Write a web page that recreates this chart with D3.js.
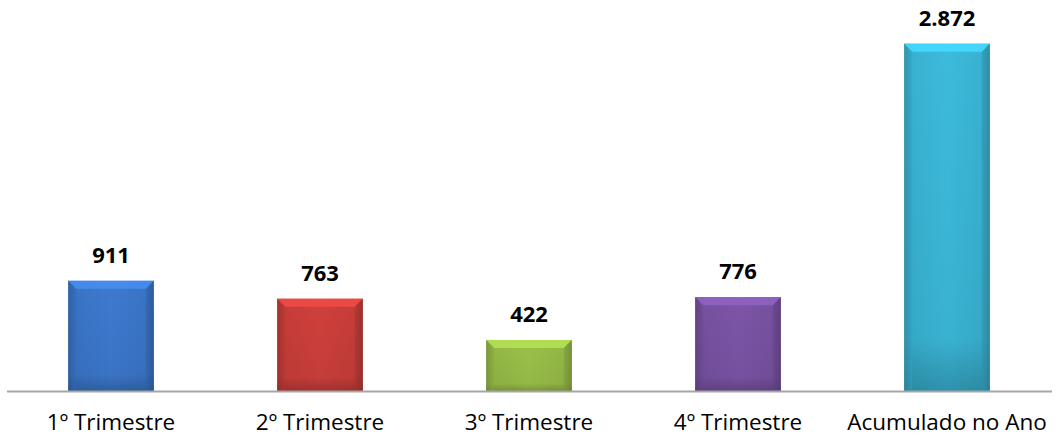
<!DOCTYPE html>
<html><head><meta charset="utf-8">
<script src="https://cdn.jsdelivr.net/npm/d3@7/dist/d3.min.js"></script>
<style>
html,body{margin:0;padding:0;background:#fff;}
svg{display:block;}
</style></head>
<body>
<svg id="c" width="1056" height="437"></svg>
<script>
const categories = ["1º Trimestre","2º Trimestre","3º Trimestre","4º Trimestre","Acumulado no Ano"];
const values = [911, 763, 422, 776, 2872];
const valueLabels = ["911","763","422","776","2.872"];
const colors = ["#3d7ad0","#d0403c","#9cc24a","#7d55a8","#3cbbdc"];

const W = 1056, H = 437;
const m = {left: 6.5, right: 4.5, top: 30, bottom: 46};
const svg = d3.select("#c");
const defs = svg.append("defs");

const x = d3.scaleBand().domain(categories).range([m.left, W - m.right]).paddingInner(0.59).paddingOuter(0.295);
const y = d3.scaleLinear().domain([0, 2985]).range([H - m.bottom, m.top]);

colors.forEach((c, i) => {
  const g = defs.append("linearGradient").attr("id", "g" + i).attr("x1", 0).attr("x2", 1).attr("y1", 0).attr("y2", 0);
  const base = d3.color(c);
  g.append("stop").attr("offset", "0%").attr("stop-color", base.darker(0.9));
  g.append("stop").attr("offset", "9%").attr("stop-color", base.darker(0.15));
  g.append("stop").attr("offset", "50%").attr("stop-color", base);
  g.append("stop").attr("offset", "91%").attr("stop-color", base.darker(0.15));
  g.append("stop").attr("offset", "100%").attr("stop-color", base.darker(0.9));
  const v = defs.append("linearGradient").attr("id", "v" + i).attr("x1", 0).attr("x2", 0).attr("y1", 0).attr("y2", 1);
  v.append("stop").attr("offset", "0%").attr("stop-color", "#000").attr("stop-opacity", 0);
  v.append("stop").attr("offset", "85%").attr("stop-color", "#000").attr("stop-opacity", 0.05);
  v.append("stop").attr("offset", "100%").attr("stop-color", "#000").attr("stop-opacity", 0.22);
});

const data = categories.map((c, i) => ({c, v: values[i], l: valueLabels[i], i}));
const bev = 8;

const bars = svg.append("g").selectAll("g").data(data).join("g");
bars.append("rect")
  .attr("x", d => x(d.c)).attr("y", d => y(d.v))
  .attr("width", x.bandwidth()).attr("height", d => y(0) - y(d.v))
  .attr("fill", d => `url(#g${d.i})`);
bars.append("rect")
  .attr("x", d => x(d.c)).attr("y", d => y(d.v))
  .attr("width", x.bandwidth()).attr("height", d => y(0) - y(d.v))
  .attr("fill", d => `url(#v${d.i})`);
// top bevel
bars.append("path")
  .attr("d", d => {
    const x0 = x(d.c), x1 = x0 + x.bandwidth(), t = y(d.v);
    return `M${x0},${t}L${x1},${t}L${x1 - bev},${t + bev}L${x0 + bev},${t + bev}Z`;
  })
  .attr("fill", d => d3.color(colors[d.i]).brighter(0.4)).attr("opacity", 0.9);
// side bevels
bars.append("path")
  .attr("d", d => {
    const x0 = x(d.c), t = y(d.v), b = y(0);
    return `M${x0},${t}L${x0 + bev},${t + bev}L${x0 + bev},${b}L${x0},${b}Z`;
  })
  .attr("fill", d => d3.color(colors[d.i]).darker(0.4)).attr("opacity", 0.45);
bars.append("path")
  .attr("d", d => {
    const x1 = x(d.c) + x.bandwidth(), t = y(d.v), b = y(0);
    return `M${x1},${t}L${x1 - bev},${t + bev}L${x1 - bev},${b}L${x1},${b}Z`;
  })
  .attr("fill", d => d3.color(colors[d.i]).darker(0.7)).attr("opacity", 0.5);

bars.append("text")
  .attr("x", d => x(d.c) + x.bandwidth() / 2)
  .attr("y", d => y(d.v) - 18)
  .attr("text-anchor", "middle")
  .attr("font-family", "Open Sans, sans-serif")
  .attr("font-weight", "bold")
  .attr("font-size", 22)
  .attr("fill", "#000")
  .text(d => d.l);

// axis
const ax = svg.append("g").attr("transform", `translate(0,${y(0)})`)
  .call(d3.axisBottom(x).tickSize(0).tickPadding(0));
ax.select(".domain").attr("stroke", "#a6a6a6").attr("stroke-width", 2);
ax.selectAll("text").attr("font-family", "Open Sans, sans-serif").attr("font-size", 22.5).attr("fill", "#000")
  .attr("dy", null).attr("y", 39);
</script>
</body></html>
